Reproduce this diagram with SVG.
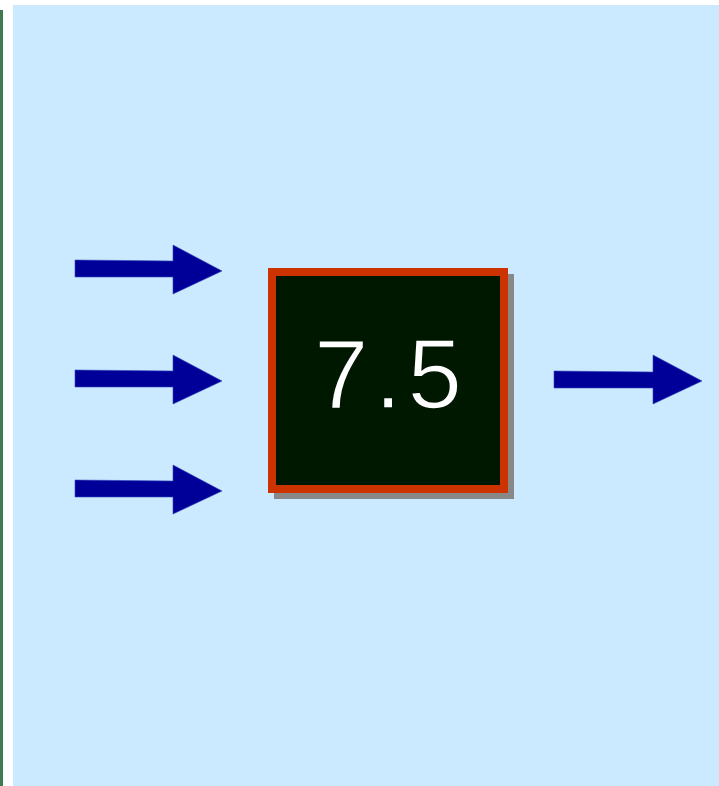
<svg xmlns="http://www.w3.org/2000/svg" width="719" height="786" viewBox="0 0 719 786">
<defs>
<style>
.arrow{fill:#000099;stroke:#3344bb;stroke-width:0.6}
.lbl{font-family:"Liberation Sans",Arial,sans-serif;font-size:98px;fill:#ffffff;stroke:#001800;stroke-width:1.6;letter-spacing:6px;text-anchor:middle}
</style>
</defs>
<rect x="0" y="0" width="719" height="786" fill="#ffffff"/>
<rect x="0" y="10" width="3" height="776" fill="#3f7a4f"/>
<rect x="13" y="5" width="706" height="781" fill="#cceaff"/>
<g id="connectors">
<polygon class="arrow" points="75,260 173,261 173,245 222,271 173,294 173,277 75,277"/>
<polygon class="arrow" points="75,370 173,371 173,355 222,381 173,404 173,387 75,387"/>
<polygon class="arrow" points="75,480 173,481 173,465 222,491 173,514 173,497 75,497"/>
<polygon class="arrow" points="554,371 653,372 653,355 702,381 653,404 653,388 554,388"/>
</g>
<g id="node-box">
<rect x="278" y="278" width="232" height="217" fill="#888888" stroke="#888888" stroke-width="8"/>
<rect x="272" y="272" width="232" height="217" fill="#001800" stroke="#cc3300" stroke-width="8"/>
<text class="lbl" x="391" y="408">7.5</text>
</g>
</svg>
